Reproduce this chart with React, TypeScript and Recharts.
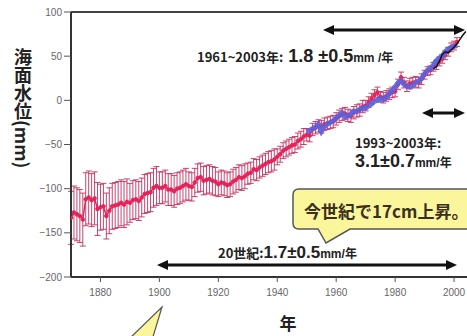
import { LineChart, Line, XAxis, YAxis, ErrorBar, ReferenceLine } from "recharts";

// annual mean sea level (mm), relative to 1961-1990
const redStart = 1870;
const redLevel = [
  -133, -127, -129, -131, -135, -112, -110, -113, -111, -123,
  -121, -120, -131, -125, -120, -119, -118, -116, -118, -115,
  -116, -113, -112, -114, -110, -106, -105, -104, -99, -97,
  -99, -99, -97, -101, -101, -103, -100, -99, -97, -95,
  -97, -98, -93, -88, -87, -91, -90, -89, -91, -92,
  -95, -93, -94, -96, -95, -92, -90, -87, -88, -86,
  -83, -82, -78, -79, -76, -74, -72, -70, -69, -67,
  -64, -61, -57, -55, -53, -51, -50, -46, -44, -41,
  -39, -40, -33, -31, -29, -30, -27, -26, -25, -24,
  -21, -18, -16, -15, -17, -18, -14, -12, -11, -7,
  -6, -2, 2, 6, 9, 4, 3, 5, 7, 9,
  10, 18, 26, 20, 16, 19, 20, 21, 20, 24,
  29, 33, 34, 38, 40, 44, 47, 51, 55, 60,
  62, 66,
];
// error bar half-length per decade, 1870s .. 2000s
const redErrorByDecade = [30, 26, 22, 18, 16, 14, 12, 9, 7, 7, 6, 6, 5, 5];

const blueStart = 1950;
const blueLevel = [
  -36, -34, -32, -30, -27, -35, -30, -27, -25, -23,
  -20, -17, -14, -19, -18, -15, -12, -13, -10, -8,
  -9, -6, -4, -1, 0, 2, 1, 3, 8, 11,
  15, 20, 22, 18, 16, 15, 17, 20, 22, 25,
  30, 34, 36, 40, 45, 48, 50, 55, 58, 60,
  61, 62,
];

const blackStart = 1993;
const blackLevel = [36, 38, 44, 52, 55, 54, 57, 60, 64, 69, 74, 78];

const xTicks = [1880, 1900, 1920, 1940, 1960, 1980, 2000];
const yTicks = [-200, -150, -100, -50, 0, 50, 100];

const redData = redLevel.map((v, i) => ({
  year: redStart + i,
  red: v,
  err: redErrorByDecade[Math.floor(i / 10)],
}));
const blueData = blueLevel.map((v, i) => ({ year: blueStart + i, blue: v }));
const blackData = blackLevel.map((v, i) => ({ year: blackStart + i, black: v }));

const FONT = "'Liberation Sans', Arial, 'Noto Sans CJK JP', sans-serif";
const JP = "'Noto Sans CJK JP', 'Liberation Sans', sans-serif";

function Arrow({ x1, x2, y }: { x1: number; x2: number; y: number }) {
  return (
    <g>
      <line x1={x1 + 6} x2={x2 - 6} y1={y} y2={y} stroke="#111" strokeWidth={3} />
      <polygon points={`${x1},${y} ${x1 + 11},${y - 5} ${x1 + 11},${y + 5}`} fill="#111" />
      <polygon points={`${x2},${y} ${x2 - 11},${y - 5} ${x2 - 11},${y + 5}`} fill="#111" />
    </g>
  );
}

// shared plot geometry so the two stacked charts line up exactly
function Frame({ children, axes }: { children: React.ReactNode; axes: boolean }) {
  return (
    <LineChart width={467} height={336} margin={{ top: 12, right: 0, bottom: 0, left: 0 }}>
      <XAxis
        type="number"
        dataKey="year"
        domain={[1870, 2004.4]}
        ticks={xTicks}
        allowDataOverflow
        height={59}
        tickSize={5}
        tickMargin={7}
        hide={false}
        axisLine={axes ? { stroke: "#333", strokeWidth: 2 } : false}
        tickLine={axes ? { stroke: "#555" } : false}
        tick={axes ? { fill: "#666", fontSize: 10, fontFamily: FONT } : false}
      />
      <YAxis
        type="number"
        domain={[-200, 100]}
        ticks={yTicks}
        allowDataOverflow
        width={71}
        tickSize={7}
        tickMargin={2}
        tickFormatter={(v: number) => String(v).replace("-", "\u2212")}
        axisLine={axes ? { stroke: "#333", strokeWidth: 2 } : false}
        tickLine={axes ? { stroke: "#555" } : false}
        tick={axes ? { fill: "#666", fontSize: 10, fontFamily: FONT } : false}
      />
      {children}
    </LineChart>
  );
}

export default function App() {
  return (
    <div style={{ position: "fixed", left: 0, top: 0, width: 467, height: 336, background: "#fff", overflow: "hidden", fontFamily: FONT }}>
      <div style={{ position: "absolute", left: 0, top: 0 }}>
        <Frame axes>
          <ReferenceLine y={100} stroke="#444" strokeWidth={2} />
          <Line
            data={redData}
            dataKey="red"
            stroke="#e3245c"
            strokeWidth={1.5}
            dot={{ r: 1.8, fill: "#e3245c", stroke: "#e3245c", strokeWidth: 1 }}
            isAnimationActive={false}
          >
            <ErrorBar dataKey="err" width={3} stroke="#c2305e" strokeWidth={0.9} direction="y" />
          </Line>
        </Frame>
      </div>
      <div style={{ position: "absolute", left: 0, top: 0 }}>
        <Frame axes={false}>
          <Line
            data={blueData}
            dataKey="blue"
            stroke="#5a62dc"
            strokeWidth={5}
            strokeOpacity={0.92}
            dot={false}
            isAnimationActive={false}
          />
          <Line
            data={blackData}
            dataKey="black"
            stroke="#111"
            strokeWidth={1.5}
            dot={false}
            isAnimationActive={false}
          />
        </Frame>
      </div>

      <svg width={467} height={336} style={{ position: "absolute", left: 0, top: 0, pointerEvents: "none" }}>
        <Arrow x1={323} x2={465} y={30} />
        <Arrow x1={422} x2={465} y={113} />
        <Arrow x1={157} x2={457} y={265} />

        <text x={197} y={62} fill="#222" fontFamily={JP} fontWeight="bold">
          <tspan fontSize={13}>1961~2003年:</tspan>
          <tspan fontSize={18} fontFamily={FONT}> 1.8 ±0.5</tspan>
          <tspan fontSize={12} fontFamily={FONT}>mm /</tspan>
          <tspan fontSize={12}>年</tspan>
        </text>

        <text x={355} y={148} fill="#222" fontFamily={JP} fontWeight="bold" fontSize={13}>1993~2003年:</text>
        <text x={355} y={167} fill="#222" fontFamily={FONT} fontWeight="bold">
          <tspan fontSize={18}>3.1±0.7</tspan>
          <tspan fontSize={12}>mm/</tspan>
          <tspan fontSize={12} fontFamily={JP}>年</tspan>
        </text>

        <text x={218} y={258} fill="#222" fontFamily={JP} fontWeight="bold">
          <tspan fontSize={13}>20世紀:</tspan>
          <tspan fontSize={17} fontFamily={FONT}>1.7±0.5</tspan>
          <tspan fontSize={12} fontFamily={FONT}>mm/</tspan>
          <tspan fontSize={12}>年</tspan>
        </text>

        <path
          d="M299,189 H480 V229 H350 L326,243 L318,229 H299 Q293,229 293,223 V195 Q293,189 299,189 Z"
          fill="#fbf59c"
          stroke="#555"
          strokeWidth={1.5}
        />
        <text x={304} y={218} fill="#3a3020" fontFamily={JP} fontWeight="bold" fontSize={17}>今世紀で17cm上昇。</text>

        <polygon points="128,340 162,307 152,340" fill="#fbf59c" stroke="#555" strokeWidth={1.2} />

        <text x={288} y={330} textAnchor="middle" fill="#222" fontFamily={JP} fontWeight="bold" fontSize={17}>年</text>
      </svg>

      <div
        style={{
          position: "absolute",
          left: 13,
          top: 48,
          writingMode: "vertical-rl",
          fontFamily: JP,
          fontWeight: "bold",
          fontSize: 18,
          lineHeight: "20px",
          color: "#222",
        }}
      >
        海面水位(mm)
      </div>
    </div>
  );
}
